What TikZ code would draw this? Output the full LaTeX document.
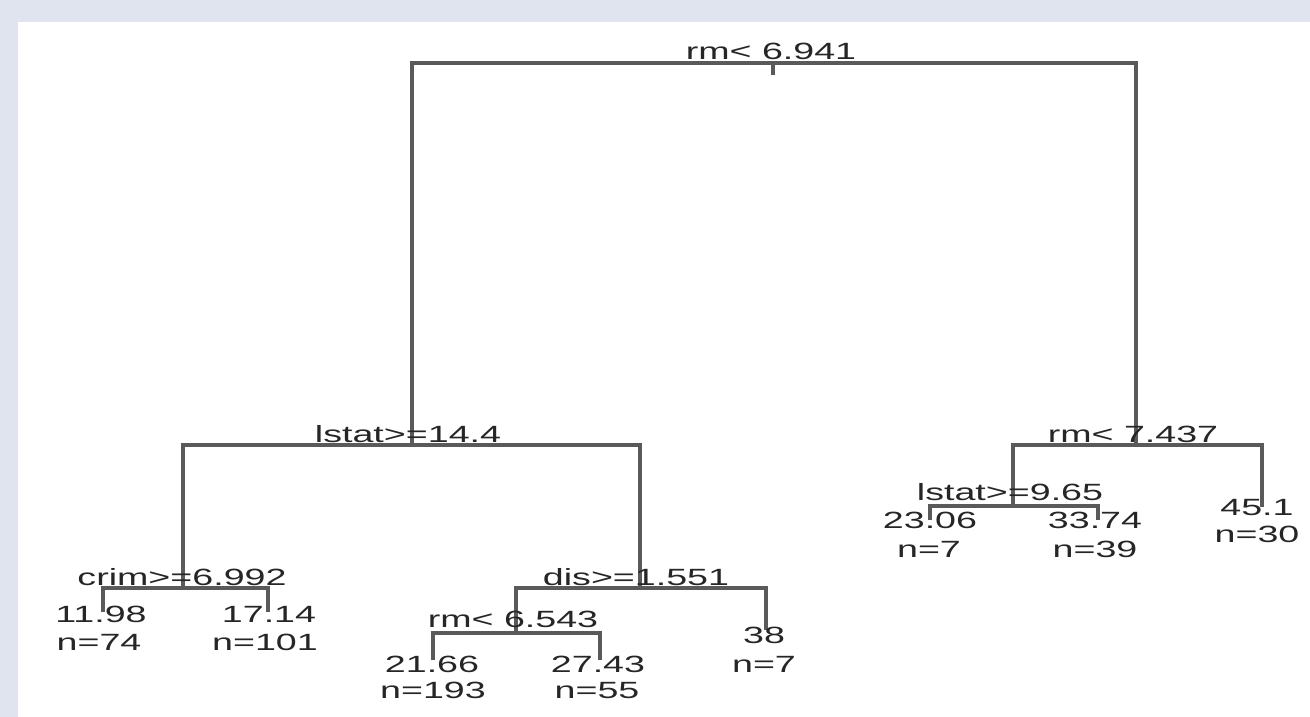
\documentclass[tikz,border=0pt]{standalone}
\usepackage{fontspec}
\setmainfont{Liberation Sans}
\definecolor{bgframe}{HTML}{E0E4EE}
\definecolor{treeline}{HTML}{5A5A5A}
\definecolor{treetext}{HTML}{262626}
\begin{document}
\begin{tikzpicture}[x=1pt,y=-1pt,
  lbl/.style={anchor=base,inner sep=0pt,xscale=1.6,text=treetext,font=\fontsize{23.5}{23.5}\selectfont},
  branch/.style={draw=treeline,line width=3.4pt,line cap=butt,line join=miter}]
\useasboundingbox (0,0) rectangle (1310,717);
\fill[bgframe] (0,0) rectangle (1310,717);
\fill[white] (18,22) rectangle (1310,717);
% split points
\coordinate (c1) at (773,63);
\coordinate (c2) at (412,445);
\coordinate (c3) at (1136,445);
\coordinate (c4) at (183,588);
\coordinate (c5) at (640,588);
\coordinate (c6) at (516,633);
\coordinate (c7) at (1013,506);
% leaf ends
\coordinate (e1) at (103,612);
\coordinate (e2) at (268,612);
\coordinate (e3) at (433,660);
\coordinate (e4) at (600,660);
\coordinate (e5) at (766,630);
\coordinate (e6) at (930,520);
\coordinate (e7) at (1098,520);
\coordinate (e8) at (1262,507);
\coordinate (top) at (773,75);
% branches
\draw[branch] (c1) -- (top);
\draw[branch] (c2) |- (c1) -| (c3);
\draw[branch] (c4) |- (c2) -| (c5);
\draw[branch] (e1) |- (c4) -| (e2);
\draw[branch] (c6) |- (c5) -| (e5);
\draw[branch] (e3) |- (c6) -| (e4);
\draw[branch] (c7) |- (c3) -| (e8);
\draw[branch] (e6) |- (c7) -| (e7);
% split labels
\node[lbl] (t1) at (771,60) {rm< 6.941};
\node[lbl] (t2) at (408,442) {lstat>=14.4};
\node[lbl] (t3) at (1133,442) {rm< 7.437};
\node[lbl] (t4) at (182,585) {crim>=6.992};
\node[lbl] (t5) at (636,585) {dis>=1.551};
\node[lbl] (t6) at (513,627) {rm< 6.543};
\node[lbl] (t7) at (1010,500) {lstat>=9.65};
% leaf labels
\node[lbl] (v1) at (101,622) {11.98};
\node[lbl] (n1) at (99,650) {n=74};
\node[lbl] (v2) at (269,622) {17.14};
\node[lbl] (n2) at (265,650) {n=101};
\node[lbl] (v3) at (432,672) {21.66};
\node[lbl] (n3) at (433,698) {n=193};
\node[lbl] (v4) at (598,672) {27.43};
\node[lbl] (n4) at (597,698) {n=55};
\node[lbl] (v5) at (764,643) {38};
\node[lbl] (n5) at (764,672) {n=7};
\node[lbl] (v6) at (930,528) {23.06};
\node[lbl] (n6) at (929,557) {n=7};
\node[lbl] (v7) at (1095,528) {33.74};
\node[lbl] (n7) at (1095,557) {n=39};
\node[lbl] (v8) at (1257,515) {45.1};
\node[lbl] (n8) at (1257,542) {n=30};
\end{tikzpicture}
\end{document}
